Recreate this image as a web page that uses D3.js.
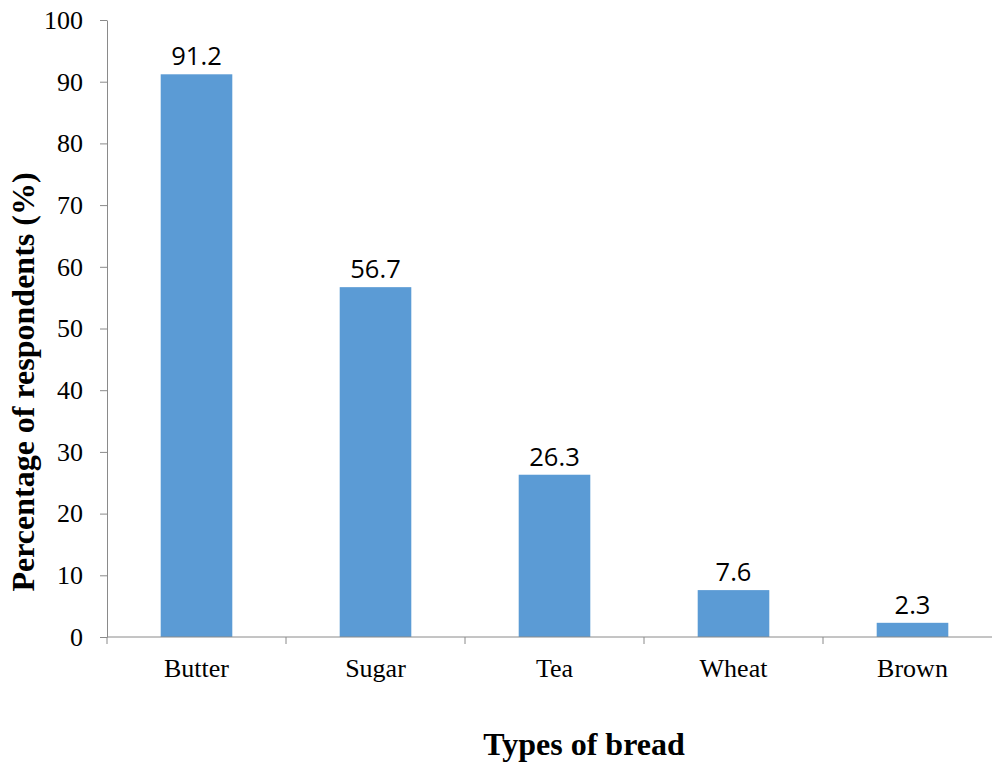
<!DOCTYPE html>
<html>
<head>
<meta charset="utf-8">
<script src="https://cdn.jsdelivr.net/npm/d3@7"></script>
<style>
  html, body { margin: 0; padding: 0; background: #fff; }
  svg { display: block; }
</style>
</head>
<body>
<svg id="chart" width="992" height="766"></svg>
<script>
// Share of respondents by type of bread
const categories = ["Butter", "Sugar", "Tea", "Wheat", "Brown"];
const values = [91.2, 56.7, 26.3, 7.6, 2.3];
const yTicks = [0, 10, 20, 30, 40, 50, 60, 70, 80, 90, 100];

const svg = d3.select("#chart");
const plotLeft = 107, plotRight = 1002, plotTop = 20, plotBottom = 637;
const serif = "'Liberation Serif', 'Times New Roman', serif";

const x = d3.scaleBand().domain(categories).range([plotLeft, plotRight]).padding(0);
const y = d3.scaleLinear().domain([0, 100]).range([plotBottom, plotTop]);

const barW = x.bandwidth() * 0.4;
const axisColor = "#8a8a8a";

// bars
svg.append("g").selectAll("rect")
  .data(values)
  .join("rect")
  .attr("x", (d, i) => x(categories[i]) + (x.bandwidth() - barW) / 2)
  .attr("y", d => y(d))
  .attr("width", barW)
  .attr("height", d => y(0) - y(d))
  .attr("fill", "#5b9bd5");

// value labels
svg.append("g").selectAll("text")
  .data(values)
  .join("text")
  .attr("x", (d, i) => x(categories[i]) + x.bandwidth() / 2)
  .attr("y", d => y(d) - 9)
  .attr("text-anchor", "middle")
  .attr("font-family", "'Open Sans', 'Liberation Sans', sans-serif")
  .attr("font-size", 25.5)
  .attr("fill", "#000")
  .text(d => d.toFixed(1));

// y axis
const yAxis = svg.append("g")
  .attr("transform", `translate(${plotLeft},0)`)
  .call(d3.axisLeft(y).tickValues(yTicks).tickSize(7).tickSizeOuter(0)
    .tickPadding(17).tickFormat(d3.format("d")));
yAxis.select(".domain").attr("stroke", axisColor);
yAxis.selectAll(".tick line").attr("stroke", axisColor);
yAxis.selectAll(".tick text")
  .attr("font-family", serif)
  .attr("font-size", 26)
  .attr("fill", "#000");

// x axis with tick marks on band boundaries
const xAxis = svg.append("g")
  .attr("transform", `translate(0,${plotBottom})`);
xAxis.append("line")
  .attr("x1", plotLeft).attr("x2", plotRight)
  .attr("stroke", axisColor);
xAxis.selectAll("line.tick")
  .data(categories)
  .join("line")
  .attr("class", "tick")
  .attr("x1", d => x(d)).attr("x2", d => x(d))
  .attr("y1", 0).attr("y2", 7)
  .attr("stroke", axisColor);
xAxis.selectAll("text")
  .data(categories)
  .join("text")
  .attr("x", d => x(d) + x.bandwidth() / 2)
  .attr("y", 40)
  .attr("text-anchor", "middle")
  .attr("font-family", serif)
  .attr("font-size", 26)
  .attr("fill", "#000")
  .text(d => d);

// axis titles
svg.append("text")
  .attr("x", 584).attr("y", 755)
  .attr("text-anchor", "middle")
  .attr("font-family", serif)
  .attr("font-weight", "bold")
  .attr("font-size", 32)
  .text("Types of bread");

svg.append("text")
  .attr("transform", "translate(34,382) rotate(-90)")
  .attr("text-anchor", "middle")
  .attr("font-family", serif)
  .attr("font-weight", "bold")
  .attr("font-size", 32)
  .text("Percentage of respondents (%)");
</script>
</body>
</html>
